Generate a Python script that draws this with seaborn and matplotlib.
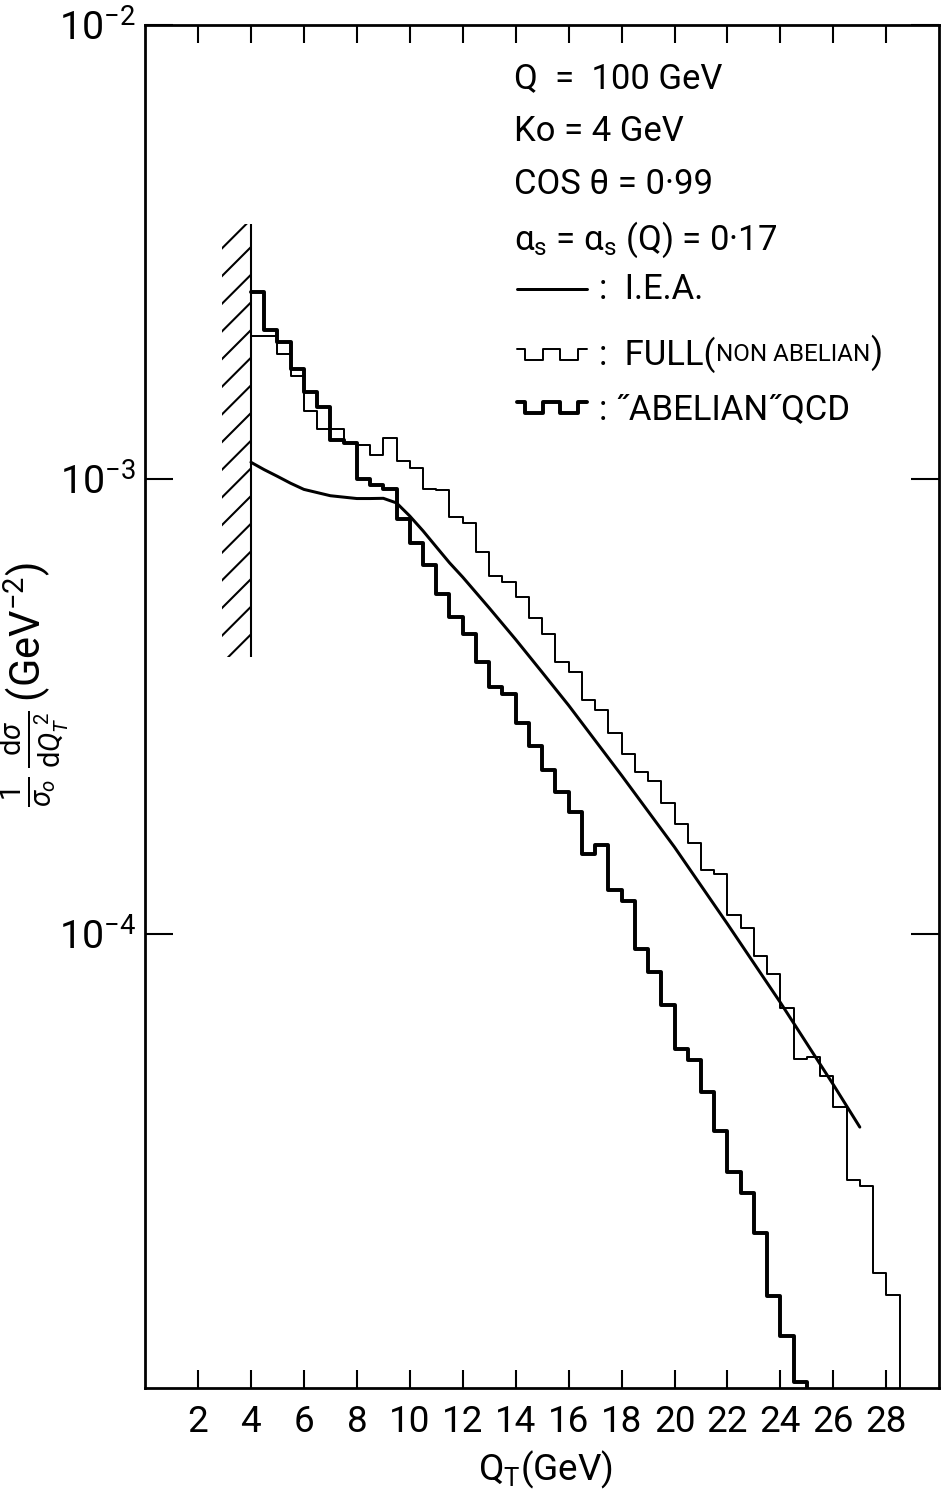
import numpy as np
import pandas as pd
import matplotlib
matplotlib.use('Agg')
import matplotlib.pyplot as plt
import seaborn as sns

# Histogram bins: 0.5 GeV wide, starting at Ko = 4 GeV
bin_width = 0.5
qt_start = 4.0

# FULL (non abelian) histogram, thin line, 4.0 -> 28.5 GeV
full_vals = [2.07e-3, 2.07e-3, 1.89e-3, 1.69e-3, 1.41e-3, 1.29e-3, 1.29e-3, 1.20e-3,
             1.19e-3, 1.13e-3, 1.23e-3, 1.095e-3, 1.057e-3, 9.54e-4, 9.47e-4, 8.28e-4,
             8.00e-4, 6.90e-4, 6.13e-4, 5.93e-4, 5.50e-4, 4.95e-4, 4.56e-4, 3.96e-4,
             3.77e-4, 3.27e-4, 3.11e-4, 2.77e-4, 2.48e-4, 2.27e-4, 2.17e-4, 1.94e-4,
             1.74e-4, 1.58e-4, 1.38e-4, 1.35e-4, 1.10e-4, 1.03e-4, 8.93e-5, 8.13e-5,
             6.87e-5, 5.29e-5, 5.36e-5, 4.87e-5, 4.16e-5, 2.87e-5, 2.78e-5, 1.79e-5,
             1.60e-5]

# "ABELIAN" QCD histogram, thick line, 4.0 -> 25.0 GeV
abelian_vals = [2.59e-3, 2.13e-3, 2.01e-3, 1.75e-3, 1.56e-3, 1.44e-3, 1.22e-3, 1.20e-3,
                1.00e-3, 9.70e-4, 9.54e-4, 8.17e-4, 7.23e-4, 6.47e-4, 5.59e-4, 4.97e-4,
                4.56e-4, 3.97e-4, 3.49e-4, 3.37e-4, 2.91e-4, 2.59e-4, 2.29e-4, 2.05e-4,
                1.85e-4, 1.50e-4, 1.57e-4, 1.25e-4, 1.18e-4, 9.25e-5, 8.25e-5, 6.95e-5,
                5.56e-5, 5.26e-5, 4.47e-5, 3.67e-5, 2.98e-5, 2.68e-5, 2.19e-5, 1.59e-5,
                1.30e-5, 1.03e-5]

# I.E.A. curve
iea_qt = [4.0, 4.5, 5.0, 5.5, 6.0, 7.0, 8.0, 8.5, 9.0, 9.5, 10.0, 10.5, 11.0, 11.5,
          12.0, 13.0, 14.0, 15.0, 16.0, 18.0, 20.0, 22.0, 24.0, 26.0, 27.0]
iea_vals = [1.09e-3, 1.05e-3, 1.015e-3, 9.8e-4, 9.5e-4, 9.2e-4, 9.07e-4, 9.07e-4,
            9.08e-4, 8.87e-4, 8.3e-4, 7.7e-4, 7.1e-4, 6.55e-4, 6.09e-4, 5.21e-4,
            4.44e-4, 3.76e-4, 3.18e-4, 2.23e-4, 1.55e-4, 1.05e-4, 7.05e-5, 4.65e-5,
            3.75e-5]

# excluded region Qt < Ko (hatched)
hatch_x = [2.9, 4.0]
hatch_y = [4.06e-4, 3.65e-3]

xticks = list(range(2, 29, 2))
yticks = [1e-2, 1e-3, 1e-4]
ytick_labels = [r'10$^{-2}$', r'10$^{-3}$', r'10$^{-4}$']

info_lines = ['Q  =  100 GeV', 'Ko = 4 GeV', 'COS θ = 0·99',
              r'α$_\mathregular{s}$ = α$_\mathregular{s}$ (Q) = 0·17']
info_y = [0.961, 0.922, 0.883, 0.842]

sns.set_style('ticks')
plt.rcParams['font.family'] = ['Roboto', 'DejaVu Sans']
plt.rcParams['mathtext.fontset'] = 'custom'
plt.rcParams['mathtext.rm'] = 'Roboto'
plt.rcParams['mathtext.it'] = 'Roboto:italic'
plt.rcParams['mathtext.bf'] = 'Roboto:bold'
plt.rcParams['hatch.linewidth'] = 0.9
plt.rcParams['text.color'] = 'black'
plt.rcParams['xtick.color'] = 'black'
plt.rcParams['ytick.color'] = 'black'

fig = plt.figure(figsize=(5.67, 9.0), dpi=166)
ax = fig.add_axes([0.1541, 0.0710, 0.8438, 0.9123])
ax.set_yscale('log')

edges_full = qt_start + bin_width * np.arange(len(full_vals) + 1)
edges_ab = qt_start + bin_width * np.arange(len(abelian_vals) + 1)
full_df = pd.DataFrame({'qt': edges_full[:-1] + bin_width / 2, 'val': full_vals})
ab_df = pd.DataFrame({'qt': edges_ab[:-1] + bin_width / 2, 'val': abelian_vals})
sns.histplot(data=full_df, x='qt', weights='val', bins=list(edges_full),
             element='step', fill=False, color='black', linewidth=0.85, ax=ax)
sns.histplot(data=ab_df, x='qt', weights='val', bins=list(edges_ab),
             element='step', fill=False, color='black', linewidth=1.7, ax=ax)
# drop of the last bin down to the axis
ax.vlines(edges_full[-1], 1e-5, full_vals[-1], color='black', lw=0.85)
ax.vlines(edges_ab[-1], 1e-5, abelian_vals[-1], color='black', lw=1.7)

sns.lineplot(x=iea_qt, y=iea_vals, color='black', linewidth=1.3, ax=ax)

ax.fill_betweenx(hatch_y, hatch_x[0], hatch_x[1], facecolor='none', edgecolor='black',
                 hatch='//', linewidth=0)
ax.vlines(hatch_x[1], hatch_y[0], hatch_y[1], color='black', lw=0.9)

ax.set_xlim(0, 30)
ax.set_ylim(1e-5, 1e-2)
ax.set_xticks(xticks)
ax.set_xticklabels([str(t) for t in xticks], fontsize=16)
ax.set_yticks(yticks)
ax.set_yticklabels(ytick_labels, fontsize=17)
ax.yaxis.set_minor_locator(matplotlib.ticker.NullLocator())
ax.tick_params(axis='x', direction='in', top=True, length=8, width=0.9, pad=7)
ax.tick_params(axis='y', direction='in', right=True, length=12, width=0.9, pad=4)
for sp in ax.spines.values():
    sp.set_linewidth(1.2)
    sp.set_color('black')
ax.set_xlabel('')
ax.set_ylabel('')

fig.text(545 / 941, 1 - 1470 / 1494, r'Q$_\mathregular{T}$(GeV)', fontsize=16,
         ha='center', va='center')
fig.text(0.036, 1 - 685 / 1494,
         r'$\frac{1}{\sigma_o}\,\frac{\mathrm{d}\sigma}{\mathrm{d}Q_T^{\ 2}}\,(\mathrm{GeV}^{-2})$',
         rotation=90, fontsize=18, ha='center', va='center')

for line, yy in zip(info_lines, info_y):
    ax.text(0.464, yy, line, transform=ax.transAxes, fontsize=15, ha='left', va='center')

# legend
lx0, lx1 = 0.468, 0.556
ax.plot([lx0, lx1], [0.806, 0.806], color='black', lw=1.3, transform=ax.transAxes)
wave_x = np.linspace(lx0, lx1, 9)
wave_y = np.array([1, 0, 0, 1, 1, 0, 0, 1, 1])
ax.plot(wave_x, 0.754 + 0.008 * wave_y, drawstyle='steps-post', color='black',
        lw=0.85, transform=ax.transAxes)
ax.plot(wave_x, 0.715 + 0.008 * wave_y, drawstyle='steps-post', color='black',
        lw=1.7, transform=ax.transAxes)
ax.text(0.572, 0.806, ':  I.E.A.', transform=ax.transAxes, fontsize=15, va='center')
t1 = ax.text(0.572, 0.758, ':  FULL(', transform=ax.transAxes, fontsize=15, va='center')
t2 = ax.annotate('NON ABELIAN', xy=(1, 0.2), xycoords=t1, fontsize=10.5, va='bottom')
ax.annotate(')', xy=(1, 0), xycoords=t2, fontsize=15, va='bottom', xytext=(0, -2.5),
            textcoords='offset points')
ax.text(0.572, 0.718, ': \u02ddABELIAN\u02ddQCD', transform=ax.transAxes, fontsize=15,
        va='center')

fig.savefig('out.png', dpi=166)
